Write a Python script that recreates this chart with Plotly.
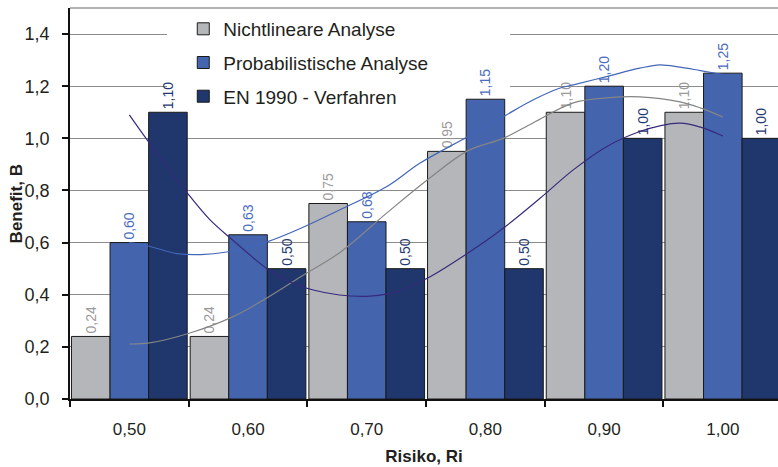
import plotly.graph_objects as go

# ---- data ----
risiko = [0.50, 0.60, 0.70, 0.80, 0.90, 1.00]
tick_labels = ["0,50", "0,60", "0,70", "0,80", "0,90", "1,00"]
series_names = ["Nichtlineare Analyse", "Probabilistische Analyse", "EN 1990 - Verfahren"]
nichtlinear = [0.24, 0.24, 0.75, 0.95, 1.10, 1.10]
probabilistisch = [0.60, 0.63, 0.68, 1.15, 1.20, 1.25]
en1990 = [1.10, 0.50, 0.50, 0.50, 1.00, 1.00]

# trend lines
trend_nl_x = [0.500, 0.517, 0.551, 0.587, 0.613, 0.644, 0.678, 0.717, 0.751, 0.785, 0.815,
              0.840, 0.874, 0.902, 0.930, 0.964, 0.981, 1.000]
trend_nl_y = [0.211, 0.215, 0.253, 0.315, 0.380, 0.468, 0.564, 0.714, 0.840, 0.952, 1.000,
              1.059, 1.136, 1.155, 1.159, 1.140, 1.117, 1.082]
trend_pr_x = [0.500, 0.515, 0.540, 0.560, 0.582, 0.616, 0.644, 0.677, 0.717, 0.745, 0.785,
              0.815, 0.840, 0.863, 0.874, 0.902, 0.930, 0.947, 0.964, 0.981, 1.000]
trend_pr_y = [0.600, 0.588, 0.558, 0.554, 0.564, 0.603, 0.654, 0.725, 0.815, 0.905, 1.006,
              1.083, 1.147, 1.193, 1.205, 1.237, 1.269, 1.282, 1.273, 1.260, 1.245]
trend_en_x = [0.500, 0.515, 0.549, 0.568, 0.587, 0.616, 0.635, 0.655, 0.677, 0.703, 0.726,
              0.751, 0.785, 0.815, 0.846, 0.874, 0.902, 0.930, 0.947, 0.964, 0.981, 1.000]
trend_en_y = [1.090, 0.994, 0.789, 0.687, 0.610, 0.500, 0.450, 0.418, 0.399, 0.395, 0.412,
              0.463, 0.559, 0.655, 0.770, 0.879, 0.968, 1.026, 1.048, 1.058, 1.043, 1.009]

bar_colors = ["#b5b6b9", "#4465ae", "#1f376c"]
label_colors = ["#9a9a9a", "#4a6cc0", "#1f3a72"]
line_colors = ["#858585", "#4266b8", "#372a7c"]

FONT = "Liberation Sans, Arial, sans-serif"

fig = go.Figure()
for i, (name, vals) in enumerate(zip(series_names, [nichtlinear, probabilistisch, en1990])):
    fig.add_trace(go.Bar(
        x=risiko, y=vals, name=name, legendgroup=f"g{i}",
        marker=dict(color=bar_colors[i], line=dict(color="#1a1a1a", width=1)),
        texttemplate="%{y:.2f}", textposition="outside", textangle=-90,
        textfont=dict(color=label_colors[i], size=14, family=FONT),
        constraintext="none", cliponaxis=False,
    ))

for xs, ys, c in [(trend_nl_x, trend_nl_y, line_colors[0]),
                  (trend_pr_x, trend_pr_y, line_colors[1]),
                  (trend_en_x, trend_en_y, line_colors[2])]:
    fig.add_trace(go.Scatter(x=xs, y=ys, mode="lines", showlegend=False,
                             line=dict(color=c, width=1.2, shape="spline"),
                             hoverinfo="skip"))

fig.update_layout(
    width=778, height=467,
    margin=dict(l=70, r=0, t=8, b=68, autoexpand=False),
    paper_bgcolor="white", plot_bgcolor="white",
    separators=", ",
    barmode="group", bargap=0.025, bargroupgap=0,
    font=dict(family=FONT, color="#231f20", size=17),
    legend=dict(x=0.160, y=0.995, xanchor="left", yanchor="top",
                bgcolor="rgba(0,0,0,0)", font=dict(size=19, color="#231f20"),
                tracegroupgap=6),
    xaxis=dict(
        range=[0.45, 1.0465], tickmode="array", tickvals=risiko, ticktext=tick_labels,
        ticks="", showgrid=False, showline=True, linecolor="#111", linewidth=1.5,
        ticklabelstandoff=14, zeroline=False, automargin=False,
        minor=dict(tickmode="array", tickvals=[0.45, 0.55, 0.65, 0.75, 0.85, 0.95, 1.05],
                   ticks="outside", ticklen=6, tickcolor="#111", tickwidth=1.5, showgrid=False),
        title=dict(text="Risiko, Ri", font=dict(size=17, weight="bold"), standoff=12),
    ),
    yaxis=dict(
        range=[0, 1.5], tickmode="array", tickvals=[0, 0.2, 0.4, 0.6, 0.8, 1.0, 1.2, 1.4],
        tickformat=".1f", ticks="outside", ticklen=6, tickcolor="#111", tickwidth=1.5,
        showline=True, linecolor="#111", linewidth=1.5, zeroline=False,
        showgrid=True, gridcolor="#8c8c8c", gridwidth=1, automargin=False,
        ticklabelstandoff=9, tickfont=dict(size=18),
    ),
    annotations=[
        dict(text="Benefit, B", xref="paper", yref="paper", x=-0.075, y=0.5,
             xanchor="center", yanchor="middle", textangle=-90, showarrow=False,
             font=dict(size=17, weight="bold", color="#231f20")),
    ],
    shapes=[
        dict(type="rect", xref="x", yref="y", x0=0.5317, x1=0.8207, y0=1.15, y1=1.5,
             fillcolor="white", line=dict(width=0), layer="between"),
        dict(type="line", xref="paper", yref="paper", x0=0, x1=1, y0=1, y1=1,
             line=dict(color="#999999", width=1.5), layer="above"),
    ],
)

fig.write_html("out.html", config={"displayModeBar": False},
               post_script="document.body.style.margin='0';")
